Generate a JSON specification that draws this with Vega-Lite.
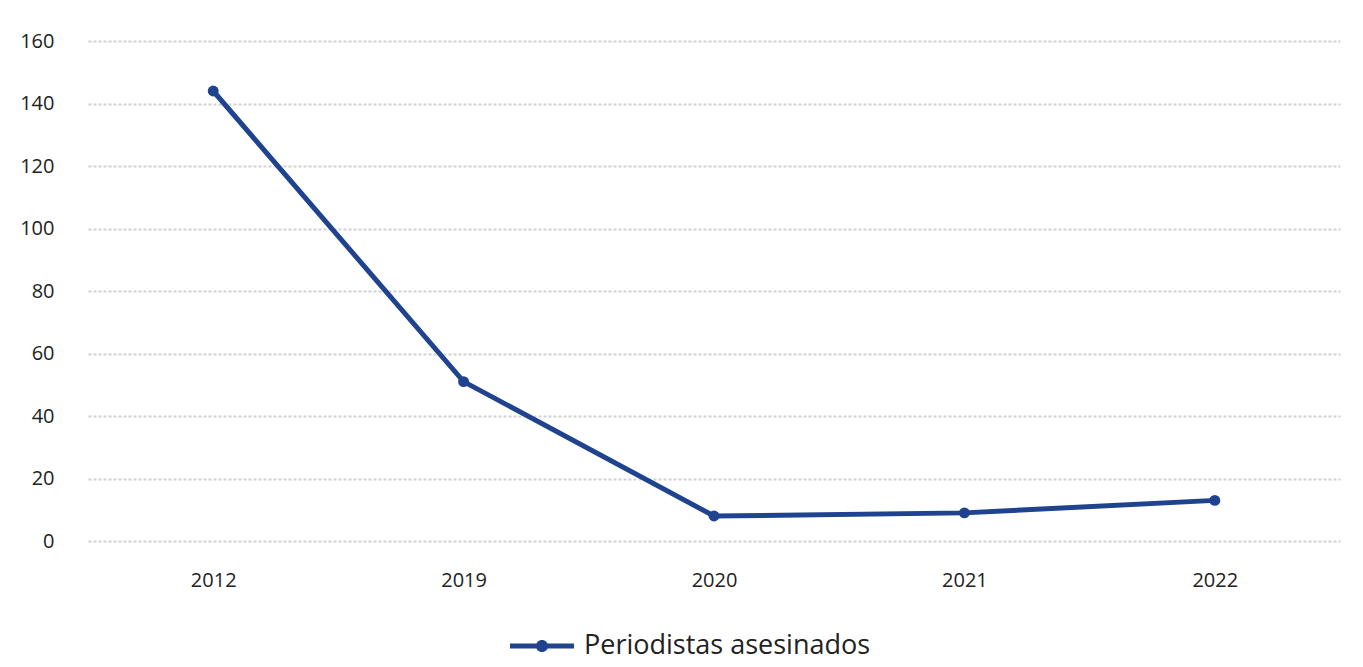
{
  "$schema": "https://vega.github.io/schema/vega-lite/v6.json",
  "width": 1252,
  "height": 500,
  "autosize": {"type": "none"},
  "padding": {"left": 88, "top": 41, "right": 23, "bottom": 126},
  "background": "white",
  "config": {
    "view": {"stroke": null},
    "font": "Open Sans"
  },
  "data": {
    "values": [
      {"year": "2012", "value": 144, "serie": "Periodistas asesinados"},
      {"year": "2019", "value": 51, "serie": "Periodistas asesinados"},
      {"year": "2020", "value": 8, "serie": "Periodistas asesinados"},
      {"year": "2021", "value": 9, "serie": "Periodistas asesinados"},
      {"year": "2022", "value": 13, "serie": "Periodistas asesinados"}
    ]
  },
  "mark": {
    "type": "line",
    "strokeWidth": 5,
    "point": {"filled": true, "size": 120, "color": "#1F438F"}
  },
  "encoding": {
    "x": {
      "field": "year",
      "type": "ordinal",
      "title": null,
      "scale": {"paddingInner": 0, "paddingOuter": 0.5},
      "axis": {
        "labelAngle": 0,
        "domain": false,
        "ticks": false,
        "grid": false,
        "labelFontSize": 20,
        "labelColor": "#222222",
        "labelPadding": 29
      }
    },
    "y": {
      "field": "value",
      "type": "quantitative",
      "title": null,
      "scale": {"domain": [0, 160], "nice": false},
      "axis": {
        "values": [0, 20, 40, 60, 80, 100, 120, 140, 160],
        "domain": false,
        "ticks": false,
        "labelFontSize": 20,
        "labelColor": "#222222",
        "labelPadding": 34,
        "gridColor": "#d4cfd4",
        "gridWidth": 2,
        "gridDash": [3, 2]
      }
    },
    "color": {
      "field": "serie",
      "type": "nominal",
      "scale": {"range": ["#1F438F"]},
      "legend": {
        "title": null,
        "orient": "none",
        "legendX": 422,
        "legendY": 573,
        "labelFontSize": 27,
        "labelLimit": 500,
        "labelColor": "#222222",
        "symbolType": "M-1,-0.08H1V0.08H-1Z M-0.19,0A0.19,0.19 0 1,1 0.19,0A0.19,0.19 0 1,1 -0.19,0Z",
        "symbolSize": 4096,
        "symbolFillColor": "#1F438F",
        "symbolStrokeWidth": 0,
        "labelOffset": 10
      }
    }
  }
}
